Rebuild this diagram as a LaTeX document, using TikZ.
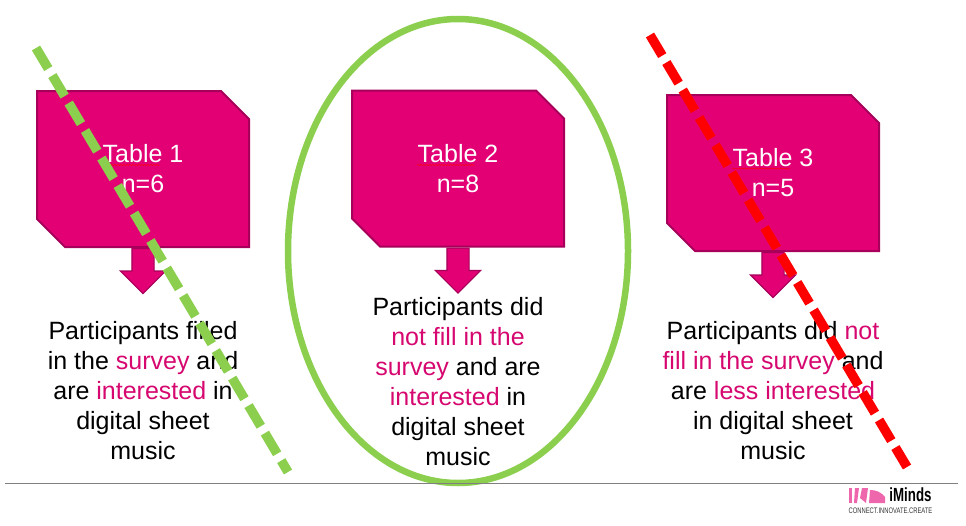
\documentclass[tikz,border=0pt]{standalone}
\usepackage{fontspec}
\setmainfont{Liberation Sans}
\usepackage{tikz}
\usetikzlibrary{positioning,shapes.misc,shapes.arrows,shapes.geometric,decorations.pathmorphing}
\definecolor{pinkfill}{HTML}{E20074}
\definecolor{pinkedge}{HTML}{A6005A}
\definecolor{pinktext}{HTML}{D60870}
\definecolor{limeline}{HTML}{8CCF4F}
\newcommand{\pk}[1]{\textcolor{pinktext}{#1}}

\begin{document}
\begin{tikzpicture}[x=1pt, y=-1pt, node distance={0pt},
	tablebox/.style={draw=pinkedge, fill=pinkfill, line width=2pt, chamfered rectangle, chamfered rectangle corners={north east,south west}, chamfered rectangle xsep=14pt, chamfered rectangle ysep=14pt, minimum width=212pt, minimum height=156pt, inner sep=0pt, text=white, align=center, font=\fontsize{25}{30}\selectfont},
	downarrow/.style={draw=pinkedge, fill=pinkfill, line width=1.2pt, single arrow, shape border rotate=270, single arrow head indent=0pt, single arrow tip angle=90, single arrow head extend=11.5pt, inner xsep=10.5pt, inner ysep=0pt, minimum height=45pt},
	info/.style={align=center, font=\fontsize{25}{30}\selectfont, inner sep=0pt},
	strike/.style={line width=9.5pt, dash pattern=on 24pt off 8pt},
	squiggle/.style={draw=red, line width=0.4pt, decorate, decoration={snake, amplitude=0.6pt, segment length=3pt}}]
	\useasboundingbox (0,0) rectangle (966,525);

	\node[tablebox] (t1) at (143,169) {Table 1\\n=6};
	\node[tablebox] (t2) at (458,168.5) {Table 2\\n=8};
	\node[tablebox] (t3) at (773,173) {Table 3\\n=5};

	\node[downarrow] (a1) [below=of t1] {};
	\node[downarrow] (a2) [below=of t2] {};
	\node[downarrow] (a3) [below=of t3] {};

	\node[info] (p1) [below=27pt of a1] {Participants filled\\in the \pk{survey} and\\are \pk{interested} in\\digital sheet\\music};
	\node[info] (p2) [below=3pt of a2] {Participants did\\\pk{not fill in the}\\\pk{survey} and are\\\pk{interested} in\\digital sheet\\music};
	\node[info] (p3) [below=23pt of a3] {Participants did \pk{not}\\\pk{fill in the survey} and\\are \pk{less interested}\\in digital sheet\\music};

	% spelling marks
	\draw[squiggle] (102,165) -- (160,165);
	\draw[squiggle] (417,165) -- (475,165);
	\draw[squiggle] (732,168.5) -- (790,168.5);

	\node[draw=limeline, line width=6.5pt, ellipse, minimum width=340pt, minimum height=464pt] (pick) at (458,251) {};

	\coordinate (g1) at (36,48);
	\coordinate (g2) at (288,472);
	\coordinate (r1) at (650,35);
	\coordinate (r2) at (907,467);
	\draw[strike, draw=limeline] (g1) -- (g2);
	\draw[strike, draw=red] (r1) -- (r2);

	% footer and logo
	\coordinate (f1) at (5,483.5);
	\coordinate (f2) at (958,483.5);
	\draw[gray, line width=0.8pt] (f1) -- (f2);
	\fill[pinkfill!60] (849,488) -- (852,488) -- (852,503) -- (849,503) -- cycle;
	\fill[pinkfill!60] (855,488) -- (859,488) -- (857,503) -- (854,503) -- cycle;
	\fill[pinkfill!60] (862,488) -- (868,488) -- (866,503) -- (860,498) -- cycle;
	\fill[pinkfill!60] (870,490) to[out=0,in=130] (885,497) -- (885,503) -- (869,503) -- cycle;
	\node[inner sep=0pt, font=\bfseries\fontsize{19}{19}\selectfont, xscale=0.7] (logo) at (910.5,495) {iMinds};
	\node[inner sep=0pt, text=black!80, font=\fontsize{8}{8}\selectfont, xscale=0.73] (tag) at (890.5,510.5) {CONNECT.INNOVATE.CREATE};
\end{tikzpicture}
\end{document}
